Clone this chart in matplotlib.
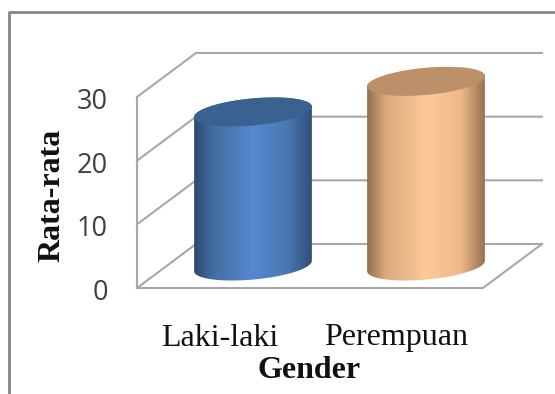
"""3-D style cylinder chart of mean score by gender."""

import numpy as np
import matplotlib
matplotlib.use("Agg")
import matplotlib.pyplot as plt
from matplotlib.colors import LinearSegmentedColormap
from matplotlib.patches import Polygon

categories = ["Laki-laki", "Perempuan"]
values = [24.2, 29.0]
ticks = [0, 10, 20, 30]
x_title = "Gender"
y_title = "Rata-rata"

blue_ramp = [(0, "#2b4a70"), (0.15, "#416c9f"), (0.5, "#5589cf"),
             (0.8, "#4a77b0"), (1, "#2f5079")]
orange_ramp = [(0, "#94704f"), (0.15, "#d9a87d"), (0.5, "#fdc997"),
               (0.8, "#eeb98a"), (1, "#97714f")]
top_colors = ["#3a618f", "#bc9069"]

GRID = "#a8a8a8"
FRAME = "#858585"
TEXT = "#404040"
SERIF = "Liberation Serif"

# oblique projection of the plot box, in pixels
X0, Y0 = 137.0, 288.0
BOX_W = 346.0
PX_PER_UNIT = 191.0 / 30
DEPTH_X, DEPTH_Y = 59.0, -44.0


def project(slot, value, depth=0.0):
    x = X0 + BOX_W * slot / len(categories) + DEPTH_X * depth
    y = Y0 - PX_PER_UNIT * value + DEPTH_Y * depth
    return x, y


def draw_walls(ax):
    top = max(ticks)
    n = len(categories)
    ax.plot(*zip(project(0, 0), project(0, top)), color=GRID, lw=1.5, zorder=1)
    for t in ticks:
        ax.plot(*zip(project(0, t), project(0, t, 1), project(n, t, 1)),
                color=GRID, lw=1.5, zorder=1)
    ax.plot(*zip(project(0, 0), project(n, 0), project(n, 0, 1)),
            color=GRID, lw=1.5, zorder=1)


def ellipse(cx, cy, t):
    # circle lying in the floor plane, sheared along the depth direction
    x = cx + 55 * np.cos(t) + 21 * np.sin(t)
    y = cy - 14.5 * np.sin(t)
    return x, y


def draw_cylinder(ax, slot, value, ramp, top_color):
    cx, base_y = project(slot, 0, 0.5)
    _, top_y = project(slot, value, 0.5)
    t_ext = np.arctan2(21, 55)
    t = np.linspace(t_ext, t_ext + np.pi, 80)
    # lower rim runs round the front of the ellipse
    xb, yb = ellipse(cx, base_y, t + np.pi)
    xt, yt = ellipse(cx, top_y, t)
    xb, yb = xb[::-1], yb[::-1]
    body = Polygon(np.r_[np.c_[xt, yt], np.c_[xb[::-1], yb[::-1]]],
                   closed=True, fc="none", ec="none")
    ax.add_patch(body)
    cmap = LinearSegmentedColormap.from_list("shade", ramp)
    im = ax.imshow(np.linspace(0, 1, 128)[None, :], cmap=cmap, aspect="auto",
                   extent=(cx - 59, cx + 59, base_y + 16, top_y - 16), zorder=3)
    im.set_clip_path(body)
    tt = np.linspace(0, 2 * np.pi, 120)
    ax.add_patch(Polygon(np.c_[ellipse(cx, top_y, tt)], closed=True,
                         fc=top_color, ec="none", zorder=4))


fig = plt.figure(figsize=(5.55, 3.94), dpi=100)
ax = fig.add_axes([0, 0, 1, 1])
draw_walls(ax)

for i, v in enumerate(values):
    draw_cylinder(ax, i + 0.5, v, blue_ramp if i == 0 else orange_ramp, top_colors[i])

ax.set_xlim(0, 555)
ax.set_ylim(394, 0)
ax.axis("off")

# outer chart frame, cropped on the right and bottom
ax.plot([8.5, 8.5, 555], [394, 11.5, 11.5], color=FRAME, lw=2, zorder=1)

for t in ticks:
    _, y = project(0, t)
    ax.text(108, y + 5, str(t), ha="right", va="center", fontsize=19.5,
            family="Open Sans", color=TEXT)

for i, name in enumerate(categories):
    x, _ = project(i + 0.5, 0, 0.5)
    ax.text(x - 33 if i == 0 else x - 30, 338, name, ha="center", va="center",
            fontsize=23, family=SERIF, color="#111111")

ax.text(309, 371, x_title, ha="center", va="center", fontsize=23,
        family=SERIF, weight="bold", color="#111111")
ax.text(52, 195, y_title, ha="center", va="center", rotation=90, fontsize=23,
        family=SERIF, weight="bold", color="#111111")

fig.savefig("out.png", dpi=100)
